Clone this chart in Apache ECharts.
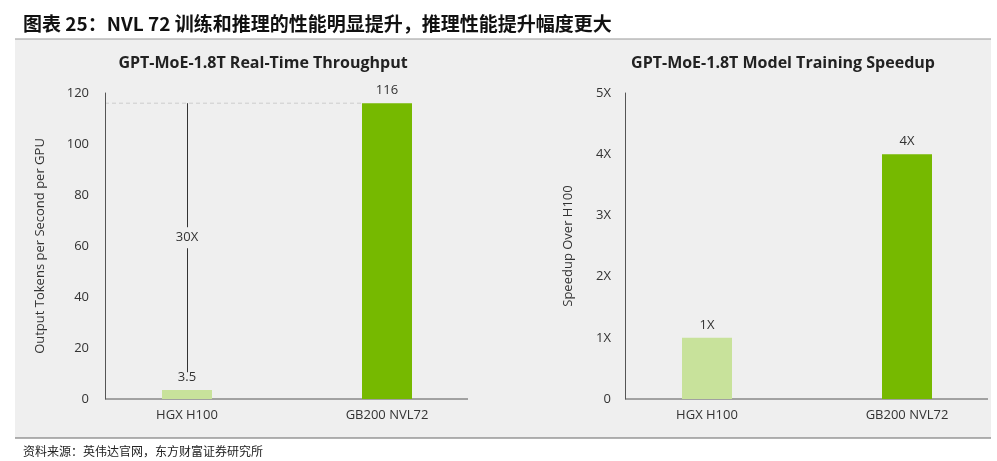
<!DOCTYPE html>
<html><head><meta charset="utf-8">
<script src="https://cdn.jsdelivr.net/npm/echarts@6/dist/echarts.min.js"></script>
<style>html,body{margin:0;padding:0;background:#fff}#c{width:997px;height:461px}</style>
</head><body><div id="c"></div>
<script>
// 吞吐量与训练加速
var categories = ['HGX H100', 'GB200 NVL72'];
var throughput = [3.5, 116];
var speedup = [1, 4];
var throughputTicks = [0, 20, 40, 60, 80, 100, 120];
var speedupTicks = ['0', '1X', '2X', '3X', '4X', '5X'];
var gainLabel = '30X';

var light = '#c8e29b', dark = '#76b900';
var font = '"Open Sans", "Noto Sans", sans-serif';
var chart = echarts.init(document.getElementById('c'));

function barData(vals) {
    return vals.map(function (v, i) {
        return { value: v, itemStyle: { color: i === 0 ? light : dark } };
    });
}

var option = {
    animation: false,
    textStyle: { fontFamily: font },
    title: [{
        text: '图表 25：NVL 72 训练和推理的性能明显提升，推理性能提升幅度更大',
        left: 18, top: 9,
        textStyle: { fontFamily: '"Noto Sans CJK SC"', fontSize: 19, fontWeight: 'bold', color: '#111' }
    }, {
        text: 'GPT-MoE-1.8T Real-Time Throughput', left: 258, top: 50, textAlign: 'center',
        textStyle: { fontFamily: font, fontSize: 16, fontWeight: 'bold', color: '#222' }
    }, {
        text: 'GPT-MoE-1.8T Model Training Speedup', left: 778, top: 50, textAlign: 'center',
        textStyle: { fontFamily: font, fontSize: 16, fontWeight: 'bold', color: '#222' }
    }, {
        text: '资料来源：英伟达官网，东方财富证券研究所', left: 18, top: 440,
        textStyle: { fontFamily: '"Noto Sans CJK SC"', fontSize: 12, fontWeight: 'normal', color: '#222' }
    }],
    // 类目中心直接落在网格边缘
    grid: [
        { left: 187, width: 200, top: 93, height: 306 },
        { left: 707, width: 200, top: 93, height: 306 }
    ],
    xAxis: [0, 1].map(function (g) {
        return {
            type: 'category', gridIndex: g, data: categories, boundaryGap: false,
            axisLine: { show: false }, axisTick: { show: false },
            axisLabel: { color: '#333', fontSize: 13, margin: 10 }
        };
    }),
    yAxis: [{
        type: 'value', gridIndex: 0, min: 0, max: 120, interval: 20, offset: 82,
        name: 'Output Tokens per Second per GPU', nameLocation: 'middle', nameGap: 58,
        nameTextStyle: { color: '#333', fontSize: 13 },
        axisLine: { show: true, lineStyle: { color: '#555' } }, axisTick: { show: false },
        splitLine: { show: false },
        axisLabel: { color: '#333', fontSize: 13, margin: 16,
            formatter: function (v) { return throughputTicks.indexOf(v) >= 0 ? String(v) : ''; } }
    }, {
        type: 'value', gridIndex: 1, min: 0, max: 5, interval: 1, offset: 82,
        name: 'Speedup Over H100', nameLocation: 'middle', nameGap: 50,
        nameTextStyle: { color: '#333', fontSize: 13 },
        axisLine: { show: true, lineStyle: { color: '#555' } }, axisTick: { show: false },
        splitLine: { show: false },
        axisLabel: { color: '#333', fontSize: 13, margin: 14,
            formatter: function (v) { return speedupTicks[v]; } }
    }],
    series: [{
        type: 'bar', xAxisIndex: 0, yAxisIndex: 0, barWidth: 50,
        data: barData(throughput),
        label: { show: true, position: 'top', color: '#333', fontSize: 13, distance: 6 },
        markLine: {
            silent: true, symbol: ['none', 'arrow'], symbolSize: [0, 7],
            lineStyle: { color: '#333', width: 1, type: 'solid' },
            label: { show: false },
            data: [[{ coord: [0, 10.5] }, { coord: [0, throughput[1]] }]]
        }
    }, {
        type: 'bar', xAxisIndex: 1, yAxisIndex: 1, barWidth: 50,
        data: barData(speedup),
        label: { show: true, position: 'top', color: '#333', fontSize: 13, distance: 6,
            formatter: function (p) { return p.value + 'X'; } }
    }]
};
chart.setOption(option);

// background panel, bottom axis lines, dashed reference line and gain label
function px(g, x, y) { return chart.convertToPixel({ gridIndex: g }, [x, y]); }
var b0 = px(0, 0, 0), b1 = px(1, 0, 0), top116 = px(0, 1, throughput[1]);
var mid = px(0, 0, (10.5 + throughput[1]) / 2);
chart.setOption({
    graphic: [
        { type: 'rect', z: -10, shape: { x: 15, y: 39, width: 976, height: 399 }, style: { fill: '#efefef' } },
        { type: 'line', shape: { x1: 15, y1: 39, x2: 991, y2: 39 }, style: { stroke: '#999', lineWidth: 1 } },
        { type: 'line', shape: { x1: 15, y1: 438, x2: 991, y2: 438 }, style: { stroke: '#666', lineWidth: 1 } },
        { type: 'line', shape: { x1: 105, y1: b0[1], x2: 468, y2: b0[1] }, style: { stroke: '#555', lineWidth: 1 } },
        { type: 'line', shape: { x1: 625, y1: b1[1], x2: 988, y2: b1[1] }, style: { stroke: '#555', lineWidth: 1 } },
        { type: 'line', shape: { x1: 105, y1: top116[1], x2: top116[0] - 25, y2: top116[1] },
          style: { stroke: '#ccc', lineWidth: 1, lineDash: [4, 3] } },
        { type: 'text', z: 100, x: mid[0], y: mid[1],
          style: { text: gainLabel, fill: '#333', font: '13px "Open Sans"', align: 'center', verticalAlign: 'middle',
                   backgroundColor: '#efefef', padding: [4, 2] } }
    ]
});
</script></body></html>
